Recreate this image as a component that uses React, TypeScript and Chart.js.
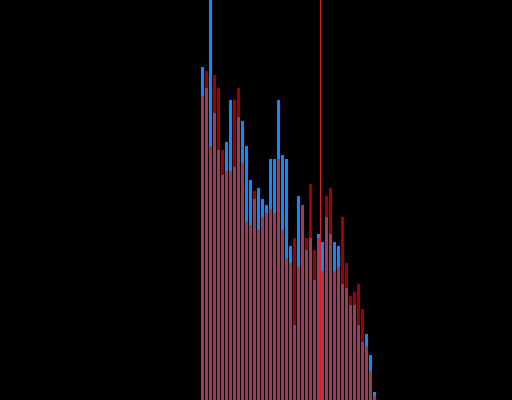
import React, { useEffect, useRef } from "react";
import { Chart, registerables } from "chart.js";

Chart.register(...registerables);

// bin index of each bar
const bins: number[] = Array.from({ length: 44 }, (_, i) => i);
// blue series heights (counts)
const blueValues: number[] = [
  333, 312, 420, 287, 250, 225, 258, 300, 233, 283,
  279, 254, 220, 201, 212, 201, 195, 241, 241, 300,
  245, 241, 154, 75, 204, 195, 150, 162, 120, 166,
  158, 183, 166, 158, 154, 116, 112, 95, 95, 75,
  58, 66, 45, 8,
];
// dark red series heights (counts)
const redValues: number[] = [
  304, 329, 254, 325, 312, 250, 229, 229, 300, 312,
  237, 179, 175, 209, 170, 183, 187, 191, 187, 241,
  170, 141, 137, 162, 133, 195, 162, 216, 150, 162,
  129, 204, 212, 129, 133, 183, 137, 104, 108, 116,
  91, 54, 29, 4,
];
// reference line position (bin units)
const markerX = 29.5;

const BLUE = "#0a8cff";
const RED = "#a00000";
const MAUVE = "#a0385f";
const LINE = "#e01e1e";

export default function App() {
  const ref = useRef<HTMLCanvasElement | null>(null);

  useEffect(() => {
    document.body.style.margin = "0";
    document.body.style.background = "#000";
    const canvas = ref.current;
    if (!canvas) return;
    const overlap = bins.map((_, i) => Math.min(blueValues[i], redValues[i]));
    const chart = new Chart(canvas, {
      type: "bar",
      data: {
        datasets: [
          {
            type: "line",
            data: [
              { x: markerX, y: 0 },
              { x: markerX, y: 400 },
            ],
            borderColor: LINE,
            borderWidth: 1,
            pointRadius: 0,
            order: -1,
          } as any,
          {
            data: bins.map((b, i) => ({ x: b, y: overlap[i] })),
            backgroundColor: MAUVE,
            order: 0,
          },
          {
            data: bins.map((b, i) => ({ x: b, y: redValues[i] })),
            backgroundColor: RED,
            order: 1,
          },
          {
            data: bins.map((b, i) => ({ x: b, y: blueValues[i] })),
            backgroundColor: BLUE,
            order: 2,
          },
        ],
      },
      options: {
        animation: false,
        responsive: false,
        maintainAspectRatio: false,
        layout: { padding: 0 },
        datasets: {
          bar: {
            grouped: false,
            categoryPercentage: 1,
            barPercentage: 0.75,
            borderWidth: 0,
          },
        },
        plugins: {
          legend: { display: false },
          tooltip: { enabled: false },
        },
        scales: {
          x: {
            type: "linear",
            display: false,
            offset: false,
            bounds: "ticks",
            min: -50.625,
            max: 77.375,
          },
          y: {
            display: false,
            min: 0,
            max: 400,
          },
        },
      },
    });
    return () => chart.destroy();
  }, []);

  return (
    <canvas
      ref={ref}
      width={512}
      height={400}
      style={{
        position: "fixed",
        left: 0,
        top: 0,
        width: 512,
        height: 400,
        background: "#000",
      }}
    />
  );
}
